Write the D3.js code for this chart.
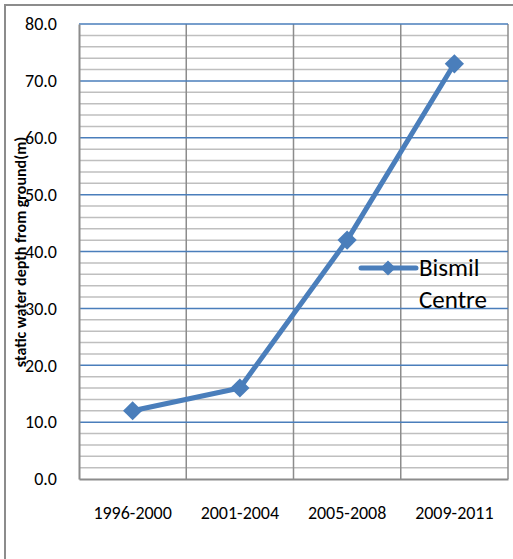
<!DOCTYPE html>
<html>
<head>
<meta charset="utf-8">
<script src="https://cdn.jsdelivr.net/npm/d3@7"></script>
<style>
  body { margin: 0; background: #fff; }
  text { font-family: Carlito, "Open Sans", "Liberation Sans", sans-serif; fill: #000; }
</style>
</head>
<body>
<svg id="chart" width="513" height="559"></svg>
<script>
// data
var periods = ['1996-2000', '2001-2004', '2005-2008', '2009-2011'];
var depths = [12, 16, 42, 73];
var seriesName = ['Bismil', 'Centre'];
var yTicks = [0, 10, 20, 30, 40, 50, 60, 70, 80];
var yMinorTicks = d3.range(0, 81, 2);

var svg = d3.select('#chart'),
    plotL = 79, plotT = 24, plotR = 508, plotB = 479,
    blue = '#4a7ebb';

// outer frame
svg.append('rect')
    .attr('x', 5).attr('y', 5).attr('width', 520).attr('height', 570)
    .attr('fill', 'none').attr('stroke', '#8c8c8c').attr('stroke-width', 2);

var x = d3.scaleBand().domain(periods).range([plotL, plotR]);
var y = d3.scaleLinear().domain([0, 80]).range([plotB, plotT]);

// minor gridlines
svg.append('g').selectAll('line')
    .data(yMinorTicks.filter(function(d) { return d % 10 !== 0; }))
    .enter().append('line')
    .attr('x1', plotL).attr('x2', plotR)
    .attr('y1', function(d) { return y(d); }).attr('y2', function(d) { return y(d); })
    .attr('stroke', '#bfbfbf').attr('stroke-width', 1.5);

// vertical category lines
svg.append('g').selectAll('line')
    .data(periods.slice(1))
    .enter().append('line')
    .attr('x1', function(d) { return x(d); }).attr('x2', function(d) { return x(d); })
    .attr('y1', plotT).attr('y2', plotB)
    .attr('stroke', '#8c8c8c').attr('stroke-width', 1.5);
svg.append('line')
    .attr('x1', plotR).attr('x2', plotR).attr('y1', plotT).attr('y2', plotB)
    .attr('stroke', '#8c8c8c').attr('stroke-width', 1.5);

// major gridlines
svg.append('g').selectAll('line')
    .data(yTicks.filter(function(d) { return d > 0; }))
    .enter().append('line')
    .attr('x1', plotL).attr('x2', plotR)
    .attr('y1', function(d) { return y(d); }).attr('y2', function(d) { return y(d); })
    .attr('stroke', blue).attr('stroke-width', 1.5);

// axes
var yAxis = svg.append('g')
    .attr('transform', 'translate(' + plotL + ',0)')
    .call(d3.axisLeft(y).tickValues(yTicks).tickSize(0).tickPadding(22)
        .tickFormat(d3.format('.1f')));
yAxis.select('.domain').attr('stroke', '#8c8c8c').attr('stroke-width', 2);
yAxis.attr('font-family', null).attr('font-size', null);
yAxis.selectAll('text').style('font-size', '18px');

var xAxis = svg.append('g')
    .attr('transform', 'translate(0,' + plotB + ')')
    .call(d3.axisBottom(x).tickSize(0).tickPadding(27));
xAxis.select('.domain').attr('stroke', '#8c8c8c').attr('stroke-width', 2);
xAxis.attr('font-family', null).attr('font-size', null);
xAxis.selectAll('text').style('font-size', '18px');

// y axis title
svg.append('text')
    .attr('transform', 'translate(26,252) rotate(-90)')
    .attr('text-anchor', 'middle')
    .style('font-size', '16px').style('font-weight', 'bold')
    .text('static water depth from ground(m)');

// series
var line = d3.line()
    .x(function(d, i) { return x(periods[i]) + x.bandwidth() / 2; })
    .y(function(d) { return y(d); });

svg.append('path').datum(depths)
    .attr('d', line)
    .attr('fill', 'none').attr('stroke', blue).attr('stroke-width', 5)
    .attr('stroke-linejoin', 'round');

var diamond = d3.symbol().type(d3.symbolSquare).size(185);
svg.append('g').selectAll('path')
    .data(depths).enter().append('path')
    .attr('d', diamond)
    .attr('transform', function(d, i) {
        return 'translate(' + (x(periods[i]) + x.bandwidth() / 2) + ',' + y(d) + ') rotate(45)';
    })
    .attr('fill', blue);

// legend
var lg = svg.append('g').attr('transform', 'translate(361,268)');
lg.append('line').attr('x1', 0).attr('x2', 55).attr('y1', 0).attr('y2', 0)
    .attr('stroke', blue).attr('stroke-width', 5).attr('stroke-linecap', 'round');
lg.append('path').attr('d', d3.symbol().type(d3.symbolSquare).size(115))
    .attr('transform', 'translate(27,0) rotate(45)').attr('fill', blue);
lg.selectAll('text').data(seriesName).enter().append('text')
    .attr('x', 58).attr('y', function(d, i) { return 8 + i * 32; })
    .style('font-size', '25px')
    .text(function(d) { return d; });
</script>
</body>
</html>
